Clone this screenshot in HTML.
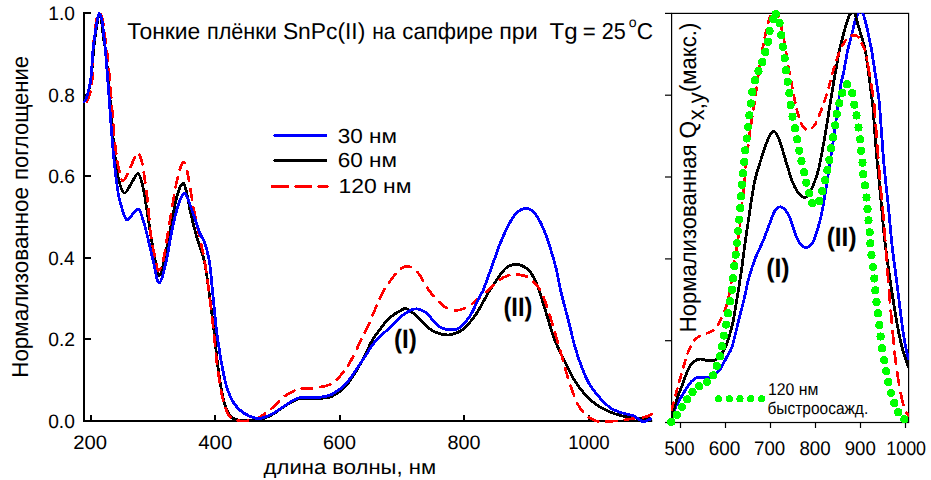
<!DOCTYPE html>
<html><head><meta charset="utf-8"><title>SnPc thin films</title>
<style>html,body{margin:0;padding:0;background:#fff;}body{width:931px;height:480px;overflow:hidden;}svg{display:block;}text{font-family:"Liberation Sans",sans-serif;fill:#000;}</style>
</head><body>
<svg width="931" height="480" viewBox="0 0 931 480" text-rendering="geometricPrecision">
<rect width="931" height="480" fill="#fff"/>
<defs><clipPath id="cr"><rect x="671" y="13" width="238" height="411"/></clipPath></defs>
<g stroke="#000" stroke-width="2" fill="none" stroke-linecap="butt">
<path d="M84 12V422"/>
<path d="M83 421H652.2"/>
<path d="M84 13.0H91"/>
<path d="M84 95.0H91"/>
<path d="M84 176.0H91"/>
<path d="M84 258.0H91"/>
<path d="M84 339.0H91"/>
<path d="M91.0 421V415"/>
<path d="M215.0 421V415"/>
<path d="M340.0 421V415"/>
<path d="M464.0 421V415"/>
<path d="M589.0 421V415"/>
</g>
<g stroke="#000" stroke-width="1.2" fill="none">
<rect x="671.6" y="13.4" width="237" height="409.1"/>
<path d="M665 13.4H671.6"/>
<path d="M665 95.2H671.6"/>
<path d="M665 177.0H671.6"/>
<path d="M665 258.9H671.6"/>
<path d="M665 340.7H671.6"/>
<path d="M665 422.5H671.6"/>
<path d="M680.5 422.5V428"/>
<path d="M725.5 422.5V428"/>
<path d="M770.5 422.5V428"/>
<path d="M815.5 422.5V428"/>
<path d="M860.5 422.5V428"/>
<path d="M905.5 422.5V428"/>
</g>
<g fill="none" stroke-linejoin="round" shape-rendering="crispEdges">
<path d="M83.6 102.6C83.9 102.2 84.8 101.3 85.5 100.0C86.2 98.7 86.6 98.3 87.5 95.0C88.4 91.7 90.0 87.5 91.0 80.0C92.0 72.5 92.9 57.0 93.6 50.0C94.3 43.0 94.4 43.0 95.0 38.3C95.6 33.6 96.8 25.4 97.4 21.7C98.0 18.0 98.2 17.3 98.5 16.0C98.8 14.7 99.1 14.0 99.4 14.0C99.7 14.0 99.9 14.7 100.3 16.0C100.7 17.3 101.0 18.0 101.6 21.7C102.1 25.4 103.0 33.6 103.6 38.3C104.2 43.0 104.6 43.0 105.4 50.0C106.2 57.0 107.7 71.7 108.5 80.0C109.3 88.3 109.4 91.7 110.1 100.0C110.8 108.3 111.6 120.8 112.4 130.0C113.2 139.2 113.8 147.0 114.8 155.0C115.8 163.0 116.8 171.7 118.3 178.0C119.8 184.3 121.9 192.0 124.0 193.0C126.1 194.0 128.8 187.2 131.0 184.0C133.2 180.8 135.8 174.0 137.5 173.5C139.2 173.0 140.3 177.3 141.5 181.0C142.7 184.7 143.2 187.4 144.6 195.4C146.0 203.4 148.1 218.0 149.8 228.8C151.5 239.5 153.5 252.2 155.0 260.0C156.5 267.8 157.4 275.8 159.0 275.8C160.6 275.8 162.5 268.0 164.4 260.0C166.3 252.0 168.5 238.3 170.5 228.0C172.5 217.7 174.5 205.4 176.5 198.0C178.5 190.6 181.0 184.3 182.7 183.3C184.4 182.3 185.2 187.2 186.5 192.0C187.8 196.8 188.7 204.5 190.4 212.0C192.1 219.5 194.4 228.9 196.7 237.0C199.0 245.1 202.2 252.0 204.2 260.5C206.2 269.0 206.9 276.4 208.5 288.0C210.1 299.6 212.3 316.8 213.9 330.0C215.5 343.2 216.4 356.0 218.0 367.5C219.6 379.0 221.4 390.8 223.3 398.8C225.2 406.7 227.2 411.9 229.6 415.4C232.0 418.9 234.9 419.1 238.0 420.0C241.1 420.9 244.5 420.6 248.0 420.6C251.5 420.6 255.8 420.5 258.8 420.0C261.8 419.5 263.6 418.5 266.0 417.5C268.4 416.5 270.0 416.0 273.3 414.0C276.6 412.0 281.6 408.0 285.8 405.5C290.0 403.0 294.6 400.0 298.3 398.8C302.0 397.6 304.5 398.5 308.0 398.4C311.5 398.3 315.1 398.8 319.2 398.4C323.3 398.0 327.9 398.3 332.5 396.0C337.1 393.7 342.1 390.3 347.0 384.6C351.9 378.9 357.5 369.0 361.7 361.7C365.9 354.4 368.5 346.8 372.0 340.8C375.5 334.9 379.8 329.7 382.5 326.0C385.2 322.3 385.2 321.4 388.3 318.8C391.4 316.1 397.7 312.0 400.8 310.4C403.9 308.8 404.2 307.9 407.0 309.0C409.8 310.1 413.7 313.4 417.5 316.7C421.3 320.0 426.4 326.2 430.0 329.0C433.6 331.8 436.1 332.5 439.0 333.5C441.9 334.5 445.0 335.0 447.7 335.0C450.4 335.0 452.4 334.5 455.0 333.5C457.6 332.5 459.8 332.1 463.3 329.0C466.8 325.9 471.4 321.1 475.8 314.6C480.2 308.2 485.1 297.7 489.8 290.3C494.5 282.9 500.6 274.1 504.0 270.0C507.4 265.9 507.9 266.7 510.0 265.8C512.1 264.9 514.5 264.3 516.7 264.4C518.9 264.5 520.8 265.0 523.0 266.2C525.2 267.4 527.6 268.2 530.0 271.5C532.4 274.8 534.9 279.3 537.5 286.0C540.1 292.7 543.0 302.9 545.8 311.7C548.6 320.5 551.1 330.6 554.2 338.8C557.3 346.9 561.1 353.8 564.4 360.6C567.7 367.4 570.4 373.8 573.8 379.4C577.2 385.0 581.2 390.2 585.0 394.4C588.8 398.6 592.2 401.8 596.3 404.7C600.4 407.6 605.0 409.8 609.4 411.7C613.8 413.6 618.4 415.0 622.5 416.0C626.6 417.0 629.0 417.4 633.8 417.9C638.5 418.4 648.1 418.8 651.0 419.0" stroke="#000" stroke-width="2.8"/>
<path d="M84.6 103.8C85.0 103.4 86.2 102.6 87.0 101.3C87.8 100.0 88.4 99.2 89.2 96.0C90.0 92.8 91.3 89.7 92.0 82.0C92.7 74.3 92.9 57.3 93.2 50.0C93.5 42.7 93.5 43.0 94.0 38.3C94.5 33.6 95.6 25.5 96.2 21.7C96.8 17.9 97.2 16.8 97.8 15.3C98.3 13.8 98.9 12.8 99.5 12.8C100.1 12.8 100.6 13.8 101.2 15.3C101.8 16.8 102.3 17.9 103.0 21.7C103.7 25.5 104.6 33.6 105.2 38.3C105.8 43.0 106.0 43.0 106.8 50.0C107.6 57.0 109.0 71.7 109.8 80.0C110.6 88.3 110.8 91.7 111.4 100.0C112.1 108.3 113.0 121.7 113.7 130.0C114.4 138.3 115.0 143.7 115.8 150.0C116.6 156.3 117.4 162.8 118.6 168.0C119.8 173.2 121.1 181.0 123.0 181.0C124.9 181.0 127.6 172.7 130.0 168.0C132.4 163.3 135.5 154.5 137.3 153.0C139.1 151.5 140.0 156.1 141.0 159.0C142.0 161.9 142.4 163.3 143.5 170.4C144.6 177.5 146.5 190.9 147.7 201.7C148.9 212.5 149.4 224.9 150.8 235.0C152.2 245.1 154.7 256.1 156.0 262.0C157.3 267.9 157.3 270.9 158.5 270.6C159.7 270.3 161.5 268.0 163.3 260.0C165.2 252.0 167.3 235.7 169.6 222.5C171.9 209.3 174.6 190.9 176.9 180.8C179.2 170.7 181.6 162.7 183.5 162.0C185.4 161.3 186.6 169.0 188.3 176.7C190.0 184.4 191.4 196.9 193.5 208.0C195.6 219.1 199.0 234.2 200.8 243.0C202.7 251.8 203.3 253.5 204.6 261.0C205.9 268.5 207.0 276.5 208.5 288.0C210.0 299.5 212.0 316.8 213.5 330.0C215.0 343.2 215.9 356.0 217.5 367.5C219.1 379.0 220.9 390.8 222.8 398.8C224.7 406.7 226.8 411.9 229.0 415.4C231.2 418.9 233.5 419.1 236.0 420.0C238.5 420.9 241.3 421.0 244.0 421.0C246.7 421.0 249.2 420.8 252.0 420.0C254.8 419.2 257.2 418.7 260.8 416.5C264.4 414.3 269.5 410.3 273.3 407.0C277.1 403.7 279.9 399.5 283.8 396.7C287.6 393.9 292.7 391.4 296.2 390.0C299.8 388.6 301.9 388.8 305.0 388.5C308.1 388.2 310.6 388.8 315.0 388.0C319.4 387.2 327.2 386.1 331.7 383.8C336.2 381.4 338.9 377.3 342.0 373.8C345.1 370.2 346.7 368.1 350.0 362.3C353.3 356.5 358.4 345.6 361.7 338.8C365.0 331.9 366.6 329.0 370.0 321.5C373.4 314.0 377.9 301.5 382.0 293.8C386.1 286.0 391.4 279.2 394.6 275.0C397.8 270.8 398.9 270.0 401.0 268.5C403.1 267.0 405.0 266.2 407.0 266.2C409.0 266.2 410.9 267.0 413.0 268.5C415.1 270.0 416.8 271.1 419.6 275.0C422.4 278.9 426.2 286.7 430.0 291.7C433.8 296.7 439.2 302.3 442.5 305.2C445.8 308.1 447.6 308.1 450.0 309.0C452.4 309.9 454.7 310.5 457.0 310.4C459.3 310.3 461.6 309.5 464.0 308.5C466.4 307.5 468.4 306.7 471.7 304.2C475.0 301.7 481.2 296.1 484.0 293.8C486.8 291.4 485.8 292.4 488.5 290.0C491.2 287.6 496.8 282.0 500.0 279.6C503.2 277.2 505.5 276.4 508.0 275.5C510.5 274.6 512.7 274.3 515.0 274.3C517.3 274.3 519.7 274.7 522.0 275.3C524.3 275.9 526.1 275.7 529.0 278.0C531.9 280.3 536.4 283.7 539.6 289.0C542.8 294.3 545.6 302.7 548.0 309.6C550.4 316.5 552.1 323.5 554.2 330.4C556.3 337.3 558.5 344.4 560.4 351.0C562.3 357.6 563.8 364.0 565.6 370.0C567.4 376.0 569.0 381.4 571.0 387.0C573.0 392.6 575.2 399.3 577.5 403.8C579.8 408.3 582.2 411.2 585.0 414.0C587.8 416.8 591.6 419.0 594.4 420.3C597.2 421.6 597.9 421.5 602.0 421.6C606.1 421.7 613.5 421.2 618.8 420.7C624.1 420.2 629.4 419.0 633.8 418.4C638.2 417.8 641.9 417.7 645.0 417.0C648.1 416.3 651.0 414.5 652.2 414.0" stroke="#ff0000" stroke-width="2.7" stroke-dasharray="10.5 8" stroke-dashoffset="15" stroke-linecap="round"/>
<path d="M83.6 102.6C83.9 102.2 84.9 101.3 85.5 100.0C86.1 98.7 86.4 98.3 87.3 95.0C88.2 91.7 89.8 87.5 90.7 80.0C91.7 72.5 92.4 57.0 93.0 50.0C93.6 43.0 93.8 43.0 94.4 38.3C95.1 33.6 96.3 25.5 96.9 21.7C97.5 17.9 97.8 17.0 98.2 15.6C98.6 14.2 99.0 13.4 99.4 13.4C99.8 13.4 100.1 14.2 100.6 15.6C101.1 17.0 101.7 17.9 102.3 21.7C102.9 25.5 103.6 33.6 104.1 38.3C104.6 43.0 104.8 43.0 105.4 50.0C106.0 57.0 107.2 71.7 107.8 80.0C108.4 88.3 108.8 93.3 109.3 100.0C109.8 106.7 110.2 113.3 110.7 120.0C111.2 126.7 111.7 133.3 112.2 140.0C112.8 146.7 113.2 152.5 114.0 160.0C114.8 167.5 116.1 178.3 117.0 185.0C117.9 191.7 118.1 194.3 119.6 200.0C121.1 205.7 124.2 216.9 126.2 219.4C128.3 221.9 130.0 216.7 132.0 215.0C134.0 213.3 136.6 208.5 138.3 209.0C140.1 209.5 141.1 214.0 142.5 218.0C143.9 222.0 144.9 226.0 146.7 233.0C148.4 240.0 150.9 251.7 153.0 260.0C155.1 268.3 156.9 283.0 159.2 283.0C161.4 283.0 164.4 268.8 166.5 260.0C168.6 251.2 170.1 239.0 172.0 230.0C173.9 221.0 176.0 212.1 178.0 206.0C180.0 199.9 182.1 194.5 183.8 193.3C185.4 192.1 186.5 195.9 188.0 199.0C189.5 202.1 190.5 206.3 192.5 212.0C194.5 217.7 197.7 227.8 199.8 233.0C201.9 238.2 203.4 238.5 205.0 243.5C206.6 248.5 208.3 254.8 209.6 263.0C210.9 271.2 211.5 281.3 212.7 292.5C213.8 303.7 215.1 318.5 216.5 330.0C217.9 341.5 219.6 351.9 221.2 361.2C222.9 370.6 224.4 379.3 226.5 386.2C228.6 393.2 230.8 398.5 233.8 403.0C236.7 407.5 240.0 410.7 244.2 413.3C248.4 415.9 253.9 418.5 258.8 418.5C263.6 418.5 268.8 415.6 273.3 413.3C277.8 411.1 281.6 407.6 285.8 405.0C290.0 402.4 294.6 399.2 298.3 398.0C302.0 396.8 304.5 397.7 308.0 397.6C311.5 397.5 315.1 398.0 319.2 397.4C323.3 396.8 327.9 396.5 332.5 394.0C337.1 391.5 342.1 387.9 347.0 382.5C351.9 377.1 357.2 368.3 361.7 361.7C366.2 355.1 369.8 348.2 374.0 343.0C378.2 337.8 382.2 334.8 386.7 330.4C391.2 326.0 396.7 320.1 400.8 316.7C404.9 313.3 408.5 311.3 411.2 310.0C414.0 308.7 415.1 308.6 417.5 309.0C419.9 309.4 422.7 310.0 425.8 312.5C428.9 315.0 433.4 321.3 436.2 324.0C439.1 326.7 440.6 327.5 443.0 328.5C445.4 329.5 448.1 329.9 450.8 329.8C453.5 329.7 455.9 330.2 459.0 328.0C462.1 325.8 466.1 322.1 469.6 316.7C473.1 311.3 477.7 300.2 480.0 295.8C482.3 291.4 481.4 294.8 483.3 290.0C485.2 285.2 488.9 274.7 491.7 267.0C494.5 259.3 497.2 250.9 500.0 244.0C502.8 237.1 505.5 230.6 508.3 225.4C511.1 220.2 513.8 215.8 516.7 213.0C519.7 210.2 522.9 208.1 526.0 208.3C529.1 208.5 532.4 210.4 535.4 214.0C538.4 217.6 541.1 223.5 543.8 229.6C546.4 235.7 548.9 243.8 551.0 250.4C553.1 257.0 554.6 262.1 556.2 269.0C557.9 275.9 558.9 283.2 561.0 292.0C563.1 300.8 566.4 312.8 568.8 322.0C571.1 331.2 572.9 339.7 575.0 347.0C577.1 354.3 579.0 360.0 581.3 366.0C583.6 372.0 585.7 377.7 588.8 383.0C591.9 388.3 596.2 393.8 600.0 398.0C603.8 402.2 607.5 406.0 611.3 408.5C615.0 411.0 618.8 411.8 622.5 413.0C626.2 414.2 631.0 414.9 633.8 416.0C636.5 417.1 637.5 418.6 639.0 419.5C640.5 420.4 641.7 421.4 643.0 421.6C644.3 421.8 645.6 421.1 647.0 420.6C648.4 420.1 650.8 418.8 651.6 418.4" stroke="#0000ff" stroke-width="2.8"/>
</g>
<g fill="none" stroke-linejoin="round" shape-rendering="crispEdges" clip-path="url(#cr)">
<path d="M671.7 418.0C672.4 416.1 673.7 411.0 675.8 406.7C677.9 402.4 681.8 396.0 684.2 392.0C686.6 388.0 688.7 384.9 690.4 382.7C692.1 380.5 693.3 379.9 694.5 379.0C695.7 378.1 696.1 377.8 697.5 377.5C698.9 377.2 701.0 377.4 703.0 377.4C705.0 377.4 707.9 377.7 709.5 377.5C711.1 377.3 710.8 377.5 712.5 376.3C714.2 375.1 717.2 373.5 719.6 370.2C722.0 366.9 724.8 360.6 726.9 356.7C729.0 352.8 730.1 352.8 732.0 347.0C733.9 341.2 736.2 330.3 738.3 322.0C740.4 313.7 742.9 304.0 744.6 297.0C746.3 290.0 746.6 286.3 748.3 280.0C750.0 273.7 752.5 265.6 755.0 259.0C757.5 252.4 760.9 246.3 763.3 240.4C765.7 234.5 767.7 228.7 769.6 223.8C771.5 218.8 772.9 213.8 774.8 211.0C776.7 208.2 778.8 206.4 781.0 207.0C783.2 207.6 786.0 210.2 788.3 214.4C790.6 218.6 792.7 227.2 794.6 232.0C796.5 236.8 797.9 240.9 799.8 243.5C801.7 246.1 804.1 247.4 806.0 247.7C807.9 247.9 809.6 246.4 811.0 245.0C812.4 243.6 812.8 243.4 814.4 239.0C816.0 234.6 818.8 225.6 820.6 218.3C822.4 211.0 823.7 202.7 825.0 195.0C826.3 187.3 827.2 180.8 828.5 172.0C829.8 163.2 831.5 152.7 833.0 142.5C834.5 132.3 836.0 120.8 837.3 111.0C838.6 101.2 840.0 90.3 841.0 84.0C842.0 77.7 842.4 78.3 843.5 73.0C844.6 67.7 846.3 57.1 847.4 51.9C848.5 46.6 849.1 45.0 850.0 41.5C850.9 38.0 851.7 34.5 852.6 31.0C853.5 27.5 854.3 23.4 855.2 20.6C856.1 17.8 856.9 15.8 857.8 14.3C858.7 12.8 859.6 11.6 860.5 11.6C861.4 11.6 862.4 12.8 863.2 14.3C864.0 15.8 864.4 17.8 865.1 20.6C865.9 23.4 866.9 27.5 867.7 31.0C868.5 34.5 869.1 38.0 869.8 41.5C870.5 45.0 871.0 46.3 871.9 51.9C872.8 57.5 874.2 67.0 875.4 75.0C876.6 83.0 878.0 90.5 879.0 100.0C880.0 109.5 880.7 121.2 881.5 132.0C882.3 142.8 882.9 152.7 884.0 165.0C885.1 177.3 887.0 193.3 888.3 205.8C889.5 218.3 890.6 231.0 891.5 240.0C892.4 249.0 892.9 253.1 893.8 260.0C894.7 266.9 895.4 271.1 896.7 281.7C898.1 292.2 900.6 313.6 901.9 323.3C903.2 333.0 903.3 333.9 904.4 340.0C905.5 346.1 907.8 356.7 908.5 360.0" stroke="#0000ff" stroke-width="2.8"/>
<path d="M671.5 420.0C672.2 417.1 674.0 408.2 675.8 402.5C677.5 396.8 679.9 391.4 682.0 385.8C684.1 380.2 686.4 373.0 688.3 369.0C690.2 365.0 691.6 363.7 693.5 362.0C695.4 360.3 697.2 359.2 699.8 359.0C702.4 358.8 706.0 360.8 709.0 360.8C712.0 360.8 715.0 360.5 717.5 358.8C720.0 357.0 722.0 353.5 723.8 350.4C725.5 347.3 726.5 344.7 728.0 340.0C729.5 335.3 731.5 329.2 733.0 322.0C734.5 314.8 735.9 305.7 737.3 297.0C738.7 288.3 740.3 278.4 741.5 270.0C742.7 261.6 743.2 256.5 744.6 246.7C746.0 236.9 748.1 222.1 749.8 211.0C751.5 199.9 752.8 189.8 755.0 180.0C757.2 170.2 761.0 159.7 763.3 152.5C765.6 145.3 767.3 140.5 769.0 137.0C770.7 133.5 772.2 131.2 773.8 131.2C775.2 131.2 776.6 134.2 778.0 137.0C779.4 139.8 780.3 142.9 782.0 148.3C783.7 153.7 786.5 163.6 788.3 169.2C790.0 174.8 790.9 178.1 792.5 182.0C794.1 185.9 796.1 189.9 798.0 192.5C799.9 195.1 802.2 197.2 804.0 197.5C805.8 197.8 807.5 196.1 809.0 194.0C810.5 191.9 811.7 189.1 813.3 185.0C814.9 180.9 816.8 176.7 818.5 169.6C820.2 162.5 822.0 152.3 823.8 142.5C825.5 132.7 827.3 121.4 829.0 111.0C830.7 100.6 832.8 87.0 834.0 80.0C835.2 73.0 835.4 73.4 836.2 68.8C837.1 64.1 838.1 56.4 839.0 51.9C839.9 47.4 840.8 45.0 841.7 41.5C842.6 38.0 843.3 34.5 844.3 31.0C845.2 27.5 846.4 23.4 847.4 20.6C848.4 17.8 849.1 15.8 850.0 14.3C850.9 12.8 851.8 11.6 852.6 11.6C853.4 11.6 854.3 12.8 855.0 14.3C855.7 15.8 856.0 17.8 856.8 20.6C857.6 23.4 858.9 27.5 859.9 31.0C860.9 34.5 862.0 38.0 863.0 41.5C864.0 45.0 864.8 47.4 865.6 51.9C866.4 56.4 867.2 62.7 868.0 68.8C868.8 74.8 869.7 81.5 870.5 88.0C871.3 94.5 872.2 100.2 873.0 108.0C873.8 115.8 874.3 126.3 875.0 135.0C875.7 143.7 876.2 151.7 877.0 160.0C877.8 168.3 878.7 176.3 879.5 185.0C880.3 193.7 881.2 203.2 882.0 212.0C882.8 220.8 883.3 227.4 884.5 238.0C885.7 248.6 887.7 263.6 889.4 275.4C891.1 287.2 893.0 299.0 894.6 308.8C896.2 318.5 897.6 327.0 899.0 334.0C900.4 341.0 901.4 345.1 903.0 350.8C904.6 356.5 907.6 365.1 908.5 368.0" stroke="#000" stroke-width="2.8"/>
<path d="M671.6 409.5C672.3 406.9 674.2 399.7 675.8 394.0C677.4 388.3 679.1 382.0 681.0 375.4C682.9 368.8 685.5 359.7 687.3 354.6C689.0 349.5 689.9 347.8 691.5 345.0C693.1 342.2 694.5 339.8 696.7 338.0C699.0 336.2 702.2 335.3 705.0 334.0C707.8 332.7 710.9 332.4 713.3 330.4C715.7 328.4 717.5 325.8 719.6 322.0C721.7 318.2 724.1 312.7 725.8 307.5C727.5 302.3 728.8 297.4 730.0 290.8C731.2 284.2 732.2 274.5 733.2 268.0C734.2 261.5 735.1 257.3 736.0 252.0C736.9 246.7 737.7 241.7 738.5 236.0C739.3 230.3 740.1 224.0 740.8 218.0C741.5 212.0 741.9 205.7 742.5 200.0C743.1 194.3 743.6 190.7 744.3 184.0C745.0 177.3 745.6 168.2 746.5 160.0C747.4 151.8 748.5 142.5 749.5 135.0C750.5 127.5 751.6 120.5 752.5 115.0C753.4 109.5 753.9 106.5 754.6 102.0C755.3 97.5 755.8 93.3 756.5 88.0C757.2 82.7 757.9 76.9 759.0 70.0C760.1 63.1 761.6 54.1 763.0 46.7C764.4 39.3 766.0 31.1 767.3 25.8C768.6 20.5 769.7 17.6 771.0 15.0C772.3 12.4 774.0 10.3 775.3 10.5C776.5 10.7 777.6 13.6 778.5 16.0C779.4 18.4 779.9 21.0 780.8 25.0C781.7 29.0 783.0 35.0 784.0 40.0C785.0 45.0 785.7 50.0 786.5 55.0C787.3 60.0 788.1 65.0 789.0 70.0C789.9 75.0 790.9 80.2 791.8 85.0C792.7 89.8 793.7 95.1 794.5 99.0C795.3 102.9 795.7 105.2 796.5 108.5C797.3 111.8 798.5 115.6 799.5 118.5C800.5 121.4 801.2 124.1 802.5 126.0C803.8 127.9 805.4 129.7 807.0 130.0C808.6 130.3 810.6 129.0 812.0 128.0C813.4 127.0 813.8 126.9 815.4 123.8C817.0 120.6 819.6 114.6 821.7 109.0C823.8 103.4 826.3 96.1 828.0 90.4C829.7 84.7 830.3 80.9 832.0 75.0C833.7 69.1 836.2 60.5 838.3 55.0C840.3 49.5 842.4 45.3 844.3 42.3C846.2 39.3 847.9 38.0 849.5 36.8C851.1 35.6 852.4 35.2 853.8 35.2C855.2 35.2 856.8 35.7 858.0 36.8C859.2 37.9 859.8 39.7 861.0 42.0C862.2 44.3 864.1 47.9 865.1 50.8C866.1 53.7 866.7 58.0 867.0 59.5" stroke="#ff0000" stroke-width="2.7" stroke-dasharray="7.2 7.4" stroke-linecap="round"/>
<path d="M867.0 59.5C867.6 63.1 869.5 74.5 870.6 81.2C871.7 88.0 872.9 93.3 873.8 100.0C874.6 106.7 874.5 109.1 875.5 121.7C876.5 134.3 878.4 160.8 879.6 175.8C880.9 190.9 882.1 201.3 883.0 212.0C883.9 222.7 884.3 228.4 885.2 240.0C886.1 251.6 887.2 268.5 888.3 281.7C889.3 294.9 890.6 309.3 891.5 319.0C892.4 328.7 892.8 333.0 893.5 340.0C894.2 347.0 894.6 353.2 895.6 361.2C896.6 369.3 898.4 380.7 899.8 388.3C901.2 395.9 902.5 402.4 904.0 407.0C905.5 411.6 907.8 414.5 908.5 416.0" stroke="#ff0000" stroke-width="2.7" stroke-dasharray="12.3 8.4" stroke-dashoffset="-4" stroke-linecap="round"/>
</g>
<g fill="#00ff00" shape-rendering="crispEdges">
<circle cx="671.2" cy="421.9" r="4.1"/>
<circle cx="676.9" cy="415.0" r="4.1"/>
<circle cx="682.0" cy="407.0" r="4.1"/>
<circle cx="687.3" cy="399.4" r="4.1"/>
<circle cx="692.5" cy="392.0" r="4.1"/>
<circle cx="699.2" cy="386.2" r="4.1"/>
<circle cx="707.0" cy="382.0" r="4.1"/>
<circle cx="713.3" cy="375.4" r="4.1"/>
<circle cx="716.9" cy="366.0" r="4.1"/>
<circle cx="720.0" cy="356.2" r="4.1"/>
<circle cx="722.0" cy="346.2" r="4.1"/>
<circle cx="723.8" cy="335.6" r="4.1"/>
<circle cx="726.2" cy="324.6" r="4.1"/>
<circle cx="728.0" cy="313.3" r="4.1"/>
<circle cx="730.0" cy="301.2" r="4.1"/>
<circle cx="732.0" cy="289.8" r="4.1"/>
<circle cx="733.0" cy="278.3" r="4.1"/>
<circle cx="734.2" cy="266.0" r="4.1"/>
<circle cx="735.6" cy="254.6" r="4.1"/>
<circle cx="737.0" cy="243.0" r="4.1"/>
<circle cx="738.0" cy="231.0" r="4.1"/>
<circle cx="739.2" cy="219.6" r="4.1"/>
<circle cx="740.2" cy="208.0" r="4.1"/>
<circle cx="741.0" cy="196.2" r="4.1"/>
<circle cx="742.0" cy="184.7" r="4.1"/>
<circle cx="743.0" cy="173.3" r="4.1"/>
<circle cx="744.2" cy="161.9" r="4.1"/>
<circle cx="745.2" cy="150.4" r="4.1"/>
<circle cx="746.7" cy="138.5" r="4.1"/>
<circle cx="748.0" cy="127.0" r="4.1"/>
<circle cx="749.4" cy="115.4" r="4.1"/>
<circle cx="750.8" cy="103.5" r="4.1"/>
<circle cx="752.3" cy="92.0" r="4.1"/>
<circle cx="755.0" cy="80.2" r="4.1"/>
<circle cx="758.5" cy="71.2" r="4.1"/>
<circle cx="762.3" cy="62.0" r="4.1"/>
<circle cx="765.4" cy="52.0" r="4.1"/>
<circle cx="768.0" cy="41.7" r="4.1"/>
<circle cx="769.6" cy="30.8" r="4.1"/>
<circle cx="773.3" cy="19.2" r="4.1"/>
<circle cx="775.8" cy="14.2" r="4.1"/>
<circle cx="779.6" cy="22.9" r="4.1"/>
<circle cx="781.3" cy="35.2" r="4.1"/>
<circle cx="783.0" cy="46.9" r="4.1"/>
<circle cx="784.6" cy="58.3" r="4.1"/>
<circle cx="786.0" cy="70.3" r="4.1"/>
<circle cx="787.6" cy="81.7" r="4.1"/>
<circle cx="789.4" cy="93.0" r="4.1"/>
<circle cx="790.6" cy="105.0" r="4.1"/>
<circle cx="792.5" cy="116.6" r="4.1"/>
<circle cx="795.0" cy="128.2" r="4.1"/>
<circle cx="797.3" cy="139.4" r="4.1"/>
<circle cx="799.3" cy="150.6" r="4.1"/>
<circle cx="801.5" cy="161.2" r="4.1"/>
<circle cx="804.2" cy="172.3" r="4.1"/>
<circle cx="806.3" cy="182.6" r="4.1"/>
<circle cx="809.2" cy="193.2" r="4.1"/>
<circle cx="812.3" cy="203.2" r="4.1"/>
<circle cx="819.2" cy="201.0" r="4.1"/>
<circle cx="822.3" cy="191.2" r="4.1"/>
<circle cx="825.1" cy="180.2" r="4.1"/>
<circle cx="827.4" cy="170.1" r="4.1"/>
<circle cx="829.4" cy="159.9" r="4.1"/>
<circle cx="831.0" cy="148.3" r="4.1"/>
<circle cx="833.0" cy="137.3" r="4.1"/>
<circle cx="835.2" cy="125.4" r="4.1"/>
<circle cx="836.9" cy="114.0" r="4.1"/>
<circle cx="839.4" cy="103.3" r="4.1"/>
<circle cx="842.2" cy="92.9" r="4.1"/>
<circle cx="847.0" cy="84.3" r="4.1"/>
<circle cx="852.3" cy="93.2" r="4.1"/>
<circle cx="854.4" cy="104.6" r="4.1"/>
<circle cx="856.5" cy="115.4" r="4.1"/>
<circle cx="858.5" cy="127.5" r="4.1"/>
<circle cx="860.2" cy="139.4" r="4.1"/>
<circle cx="861.2" cy="150.8" r="4.1"/>
<circle cx="862.5" cy="162.6" r="4.1"/>
<circle cx="863.3" cy="174.3" r="4.1"/>
<circle cx="865.0" cy="185.4" r="4.1"/>
<circle cx="866.5" cy="197.5" r="4.1"/>
<circle cx="867.5" cy="209.0" r="4.1"/>
<circle cx="868.5" cy="220.4" r="4.1"/>
<circle cx="869.6" cy="232.3" r="4.1"/>
<circle cx="870.4" cy="243.4" r="4.1"/>
<circle cx="871.5" cy="255.2" r="4.1"/>
<circle cx="873.0" cy="267.0" r="4.1"/>
<circle cx="874.4" cy="278.5" r="4.1"/>
<circle cx="875.4" cy="290.4" r="4.1"/>
<circle cx="876.5" cy="302.0" r="4.1"/>
<circle cx="878.0" cy="313.3" r="4.1"/>
<circle cx="879.4" cy="325.0" r="4.1"/>
<circle cx="880.6" cy="336.5" r="4.1"/>
<circle cx="882.0" cy="348.3" r="4.1"/>
<circle cx="884.2" cy="360.2" r="4.1"/>
<circle cx="886.2" cy="371.2" r="4.1"/>
<circle cx="888.3" cy="382.0" r="4.1"/>
<circle cx="891.0" cy="393.0" r="4.1"/>
<circle cx="894.2" cy="403.0" r="4.1"/>
<circle cx="898.3" cy="412.3" r="4.1"/>
<circle cx="904.4" cy="419.2" r="4.1"/>
<circle cx="718.5" cy="398.8" r="3.6"/>
<circle cx="729.4" cy="398.8" r="3.6"/>
<circle cx="740.0" cy="398.8" r="3.6"/>
<circle cx="750.8" cy="398.8" r="3.6"/>
<circle cx="761.7" cy="398.8" r="3.6"/>
</g>
<path d="M275 135.5H325.6" stroke="#0000ff" stroke-width="3" stroke-linecap="round" fill="none" shape-rendering="crispEdges"/>
<path d="M275 160.5H325.6" stroke="#000" stroke-width="3" stroke-linecap="round" fill="none" shape-rendering="crispEdges"/>
<path d="M272.6 186.5H327.1" stroke="#ff0000" stroke-width="3" stroke-dasharray="15.2 8" stroke-linecap="round" fill="none" shape-rendering="crispEdges"/>
<text x="127.28" y="38.6" font-size="23" textLength="73.07" lengthAdjust="spacingAndGlyphs">Тонкие</text>
<text x="206.95" y="38.6" font-size="23" textLength="69.93" lengthAdjust="spacingAndGlyphs">плёнки</text>
<text x="282.90" y="38.6" font-size="23" textLength="82.41" lengthAdjust="spacingAndGlyphs">SnPc(II)</text>
<text x="372.29" y="38.6" font-size="23" textLength="23.26" lengthAdjust="spacingAndGlyphs">на</text>
<text x="402.29" y="38.6" font-size="23" textLength="90.84" lengthAdjust="spacingAndGlyphs">сапфире</text>
<text x="499.30" y="38.6" font-size="23" textLength="38.41" lengthAdjust="spacingAndGlyphs">при</text>
<text x="549.57" y="38.6" font-size="23" textLength="28.09" lengthAdjust="spacingAndGlyphs">Tg</text>
<text x="582.83" y="38.6" font-size="23" textLength="12.98" lengthAdjust="spacingAndGlyphs">=</text>
<text x="601.86" y="38.6" font-size="23" textLength="24.00" lengthAdjust="spacingAndGlyphs">25</text>
<text x="636.75" y="38.6" font-size="23" textLength="16.36" lengthAdjust="spacingAndGlyphs">C</text>
<text x="628.89" y="27.3" font-size="14" textLength="7.85" lengthAdjust="spacingAndGlyphs">o</text>
<text x="337.80" y="142.6" font-size="20.4" textLength="59.24" lengthAdjust="spacingAndGlyphs">30 нм</text>
<text x="337.67" y="167.2" font-size="20.4" textLength="59.21" lengthAdjust="spacingAndGlyphs">60 нм</text>
<text x="338.40" y="193.1" font-size="20.4" textLength="73.12" lengthAdjust="spacingAndGlyphs">120 нм</text>
<text x="48.36" y="20.0" font-size="19.5" textLength="26.57" lengthAdjust="spacingAndGlyphs">1.0</text>
<text x="48.32" y="102.0" font-size="19.5" textLength="26.48" lengthAdjust="spacingAndGlyphs">0.8</text>
<text x="48.20" y="183.0" font-size="19.5" textLength="26.88" lengthAdjust="spacingAndGlyphs">0.6</text>
<text x="48.25" y="265.0" font-size="19.5" textLength="26.35" lengthAdjust="spacingAndGlyphs">0.4</text>
<text x="48.19" y="346.0" font-size="19.5" textLength="26.81" lengthAdjust="spacingAndGlyphs">0.2</text>
<text x="48.21" y="428.0" font-size="19.5" textLength="26.66" lengthAdjust="spacingAndGlyphs">0.0</text>
<text x="73.30" y="448.8" font-size="19.5" textLength="33.83" lengthAdjust="spacingAndGlyphs">200</text>
<text x="198.23" y="448.8" font-size="19.5" textLength="34.07" lengthAdjust="spacingAndGlyphs">400</text>
<text x="322.96" y="448.8" font-size="19.5" textLength="32.97" lengthAdjust="spacingAndGlyphs">600</text>
<text x="447.64" y="448.8" font-size="19.5" textLength="32.98" lengthAdjust="spacingAndGlyphs">800</text>
<text x="568.20" y="448.8" font-size="19.5" textLength="41.58" lengthAdjust="spacingAndGlyphs">1000</text>
<text x="664.49" y="455.0" font-size="19.8" textLength="30.10" lengthAdjust="spacingAndGlyphs">500</text>
<text x="708.63" y="455.0" font-size="19.8" textLength="31.61" lengthAdjust="spacingAndGlyphs">600</text>
<text x="754.11" y="455.0" font-size="19.8" textLength="31.15" lengthAdjust="spacingAndGlyphs">700</text>
<text x="799.46" y="455.0" font-size="19.8" textLength="31.21" lengthAdjust="spacingAndGlyphs">800</text>
<text x="844.74" y="455.0" font-size="19.8" textLength="31.14" lengthAdjust="spacingAndGlyphs">900</text>
<text x="886.29" y="455.0" font-size="19.8" textLength="39.76" lengthAdjust="spacingAndGlyphs">1000</text>
<text x="263.64" y="474.2" font-size="20.6" textLength="172.48" lengthAdjust="spacingAndGlyphs">длина волны, нм</text>
<text transform="translate(28.10 376.00) rotate(-90)" x="-1.77" y="0" font-size="23" textLength="190.77" lengthAdjust="spacingAndGlyphs">Нормализованное</text>
<text transform="translate(28.10 376.00) rotate(-90)" x="196.03" y="0" font-size="23" textLength="124.08" lengthAdjust="spacingAndGlyphs">поглощение</text>
<text transform="translate(695.50 330.50) rotate(-90)" x="-1.67" y="0" font-size="23.3" textLength="187.57" lengthAdjust="spacingAndGlyphs">Нормализованная</text>
<text transform="translate(695.50 330.50) rotate(-90)" x="192.05" y="0" font-size="23.3" textLength="17.58" lengthAdjust="spacingAndGlyphs">Q</text>
<text transform="translate(703.50 330.50) rotate(-90)" x="210.19" y="0" font-size="23.3" textLength="28.08" lengthAdjust="spacingAndGlyphs">x,y</text>
<text transform="translate(695.50 330.50) rotate(-90)" x="238.47" y="0" font-size="23.3" textLength="69.36" lengthAdjust="spacingAndGlyphs">(макс.)</text>
<text x="394.06" y="347.5" font-size="26.6" textLength="22.86" lengthAdjust="spacingAndGlyphs" font-weight="bold">(I)</text>
<text x="503.47" y="315.7" font-size="26.6" textLength="28.91" lengthAdjust="spacingAndGlyphs" font-weight="bold">(II)</text>
<text x="766.14" y="276.6" font-size="26.6" textLength="23.47" lengthAdjust="spacingAndGlyphs" font-weight="bold">(I)</text>
<text x="826.72" y="246.0" font-size="26.6" textLength="29.81" lengthAdjust="spacingAndGlyphs" font-weight="bold">(II)</text>
<text x="767.88" y="395.0" font-size="17" textLength="50.48" lengthAdjust="spacingAndGlyphs">120 нм</text>
<text x="767.50" y="413.8" font-size="17" textLength="100.69" lengthAdjust="spacingAndGlyphs">быстроосажд.</text>
</svg></body></html>
